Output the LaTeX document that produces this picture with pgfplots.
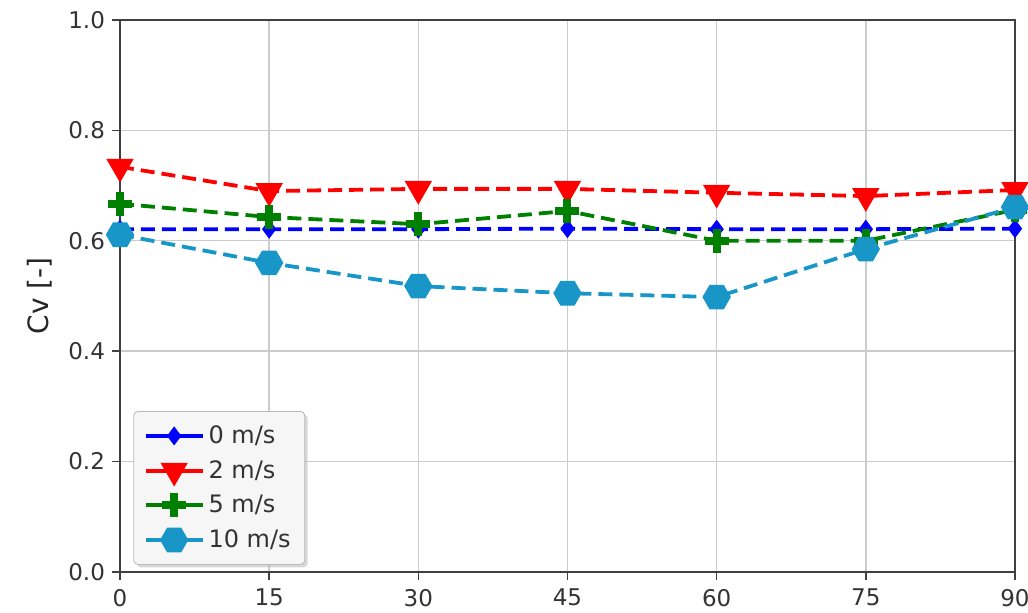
\documentclass[border=0pt]{standalone}
\usepackage{pgfplots}
\pgfplotsset{compat=1.18}
\usepackage{fontspec}
\setmainfont{DejaVu Sans}
\usetikzlibrary{shadows}

\definecolor{cblue}{RGB}{0,0,255}
\definecolor{cred}{RGB}{255,0,0}
\definecolor{cgreen}{RGB}{0,128,0}
\definecolor{ccyan}{RGB}{25,150,200}

\makeatletter
\tikzset{no preactions/.code={\let\tikz@preactions=\pgfutil@empty}}
\makeatother

% flat-topped hexagon, like matplotlib's 'H'
\pgfdeclareplotmark{hex*}{%
  \pgfpathmoveto{\pgfqpointpolar{0}{\pgfplotmarksize}}%
  \pgfpathlineto{\pgfqpointpolar{60}{\pgfplotmarksize}}%
  \pgfpathlineto{\pgfqpointpolar{120}{\pgfplotmarksize}}%
  \pgfpathlineto{\pgfqpointpolar{180}{\pgfplotmarksize}}%
  \pgfpathlineto{\pgfqpointpolar{240}{\pgfplotmarksize}}%
  \pgfpathlineto{\pgfqpointpolar{300}{\pgfplotmarksize}}%
  \pgfpathclose
  \pgfusepathqfillstroke}

\begin{document}
\begin{tikzpicture}
\begin{axis}[
    width=447.5pt, height=276pt, scale only axis,
    xmin=0, xmax=90, ymin=0, ymax=1,
    xtick={0,15,...,90}, ytick={0,0.2,...,1.0},
    yticklabel style={/pgf/number format/.cd, fixed, fixed zerofill, precision=1},
    /pgf/number format/assume math mode=true,
    ticklabel style={font=\fontsize{11.5}{13}\selectfont, text=black!80},
    xticklabel style={yshift=-1pt},
    every axis y label/.style={at={(rel axis cs:0,0.5)}, xshift=-40pt, rotate=90, anchor=center},
    ylabel={Cv [-]},
    ylabel style={font=\fontsize{14}{16}\selectfont, text=black!85},
    axis line style={black!75, line width=0.8pt},
    tick style={black!75, line width=0.8pt},
    tick align=outside, tick pos=left,
    major tick length=4pt,
    grid=major,
    major grid style={gray!40, line width=0.7pt},
    every axis plot/.append style={line width=1.9pt, dash pattern=on 7pt off 3.5pt},
    legend style={at={(0.015,0.013)}, anchor=south west,
        fill=gray!7, draw=gray!55, rounded corners=2pt,
        drop shadow={shadow xshift=1.5pt, shadow yshift=-1.5pt, fill=gray!60},
        font=\fontsize{12}{14}\selectfont, text=black!80,
        row sep=3pt, inner xsep=5pt, inner ysep=5pt},
    legend cell align=left,
    legend image code/.code={%
        \draw[no preactions, mark repeat=2, mark phase=2, solid]
            plot coordinates {(0cm,0cm) (0.5cm,0cm) (1cm,0cm)};},
]
\addplot[cblue, mark=diamond*, mark size=3.2pt, mark options={solid, fill=cblue}]
    coordinates {(0,0.621) (15,0.621) (30,0.621) (45,0.622) (60,0.621) (75,0.621) (90,0.622)};
\addlegendentry{0 m/s}
\addplot[cred, mark=triangle*, mark size=6pt, mark options={solid, rotate=180, fill=cred}]
    coordinates {(0,0.734) (15,0.690) (30,0.694) (45,0.694) (60,0.687) (75,0.681) (90,0.692)};
\addlegendentry{2 m/s}
\addplot[cgreen, mark=+, mark size=6pt, mark options={solid, line width=4pt}]
    coordinates {(0,0.667) (15,0.643) (30,0.630) (45,0.654) (60,0.600) (75,0.600) (90,0.656)};
\addlegendentry{5 m/s}
\addplot[ccyan, mark=hex*, mark size=6pt, mark options={solid, fill=ccyan}]
    coordinates {(0,0.611) (15,0.560) (30,0.518) (45,0.505) (60,0.498) (75,0.585) (90,0.661)};
\addlegendentry{10 m/s}
\end{axis}
\pgfresetboundingbox
\useasboundingbox (-60pt,-20.5pt) rectangle (454pt,286pt);
\end{tikzpicture}
\end{document}
